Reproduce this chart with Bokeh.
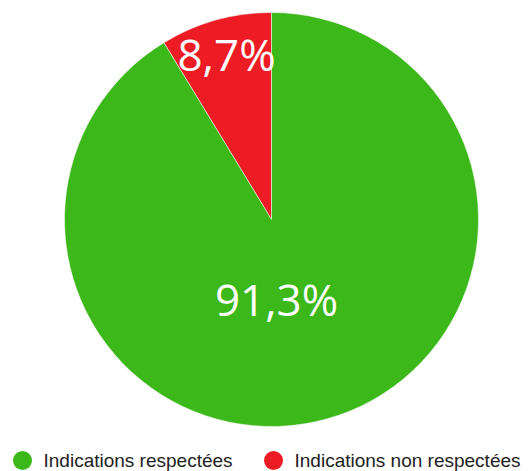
from bokeh.plotting import figure
from bokeh.models import Range1d, ColumnDataSource
from bokeh.core.properties import value
from bokeh.embed import file_html
from bokeh.resources import INLINE
import math

labels = ["Indications non respectées", "Indications respectées"]
values = [8.7, 91.3]
colors = ["#ED1C24", "#3DB81B"]
pct_text = ["8,7%", "91,3%"]

W, H = 531, 471
p = figure(width=W, height=H, output_backend="svg", toolbar_location=None,
           x_range=Range1d(0, W), y_range=Range1d(0, H), min_border=0)
p.axis.visible = False
p.grid.visible = False
p.outline_line_color = None
p.background_fill_color = "white"

cx, cy, r = 271, 252, 207
total = sum(values)
starts, ends = [], []
a = math.pi / 2
for v in values:
    starts.append(a)
    a += v / total * 2 * math.pi
    ends.append(a)

src = ColumnDataSource(dict(start=starts, end=ends, color=colors))
p.wedge(x=cx, y=cy, radius=r, start_angle="start", end_angle="end",
        fill_color="color", line_color="white", line_width=0.5, source=src)

# percentage labels
lab_x = [226, 276]
lab_y = [418, 173]
p.text(x=lab_x, y=lab_y, text=pct_text, text_color="white",
       text_font=value("Open Sans"), text_font_size="44px",
       text_align="center", text_baseline="middle")

# legend
leg_order = [1, 0]
leg_x = [22, 273]
leg_y = [11, 11]
p.scatter(x=leg_x, y=leg_y, size=19, marker="circle",
          fill_color=[colors[i] for i in leg_order], line_color=None)
p.text(x=[x + 21 for x in leg_x], y=leg_y, text=[labels[i] for i in leg_order],
       text_color="#222222", text_font=value("Liberation Sans"),
       text_font_size="19px", text_baseline="middle", text_align="left")

open("out.html", "w").write(file_html(p, INLINE))
